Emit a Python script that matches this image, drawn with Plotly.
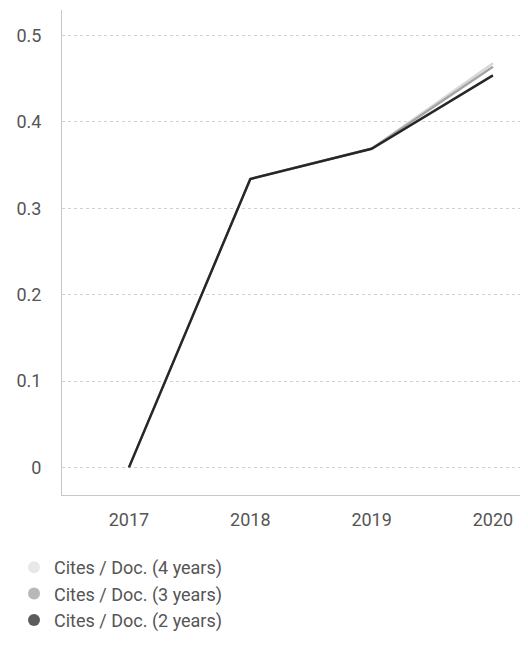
import plotly.graph_objects as go

years = ["2017", "2018", "2019", "2020"]
cites_4y = [0.0, 0.334, 0.369, 0.468]
cites_3y = [0.0, 0.334, 0.369, 0.464]
cites_2y = [0.0, 0.334, 0.369, 0.454]
y_ticks = [0, 0.1, 0.2, 0.3, 0.4, 0.5]
y_tick_labels = ["0", "0.1", "0.2", "0.3", "0.4", "0.5"]

names = ["Cites / Doc. (4 years)", "Cites / Doc. (3 years)", "Cites / Doc. (2 years)"]
values = [cites_4y, cites_3y, cites_2y]
line_colors = ["#d8d8d8", "#a4a4a4", "#262626"]
marker_colors = ["#e8e8e8", "#b8b8b8", "#5c5c5c"]

fig = go.Figure()
for name, vals, col in zip(names, values, line_colors):
    fig.add_trace(go.Scatter(
        x=years, y=vals, mode="lines", name=name,
        line=dict(color=col, width=2.4), showlegend=False,
    ))
for name, col in zip(names, marker_colors):
    fig.add_trace(go.Scatter(
        x=[None], y=[None], mode="markers", name=name,
        marker=dict(color=col, size=12, symbol="circle"), showlegend=True,
    ))

fig.update_layout(
    width=512, height=631,
    margin=dict(l=54, r=0, t=2, b=137),
    paper_bgcolor="white", plot_bgcolor="white",
    font=dict(family="Roboto", size=18, color="#555555"),
    legend=dict(
        orientation="v", x=-0.1048, xanchor="left", y=-0.112, yanchor="top",
        font=dict(size=18, color="#555555"),
        bgcolor="rgba(0,0,0,0)",
    ),
    xaxis=dict(
        type="category", range=[-0.552, 3.223],
        showgrid=False, showline=True, linecolor="#c8c8c8", linewidth=1,
        ticks="", ticklabelstandoff=8, zeroline=False, automargin=False,
        tickfont=dict(size=18, color="#555555"),
    ),
    yaxis=dict(
        range=[-0.032, 0.5297], tickvals=y_ticks, ticktext=y_tick_labels,
        showgrid=True, gridcolor="#d0d0d0", griddash="dot", gridwidth=1,
        showline=True, linecolor="#c8c8c8", linewidth=1,
        ticks="", ticklabelstandoff=16, zeroline=False, automargin=False,
        tickfont=dict(size=18, color="#555555"),
    ),
)

fig.write_html("out.html")
